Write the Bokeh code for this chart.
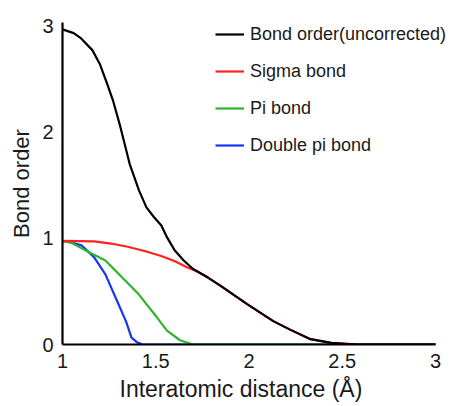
from bokeh.plotting import figure
from bokeh.models import Range1d, FixedTicker, Legend, LegendItem, Title
from bokeh.embed import file_html
from bokeh.resources import INLINE

# ---- data ----
black_x = [1.00, 1.06, 1.10, 1.16, 1.20, 1.24, 1.27, 1.31, 1.36, 1.41, 1.45, 1.49, 1.53, 1.56,
           1.60, 1.65, 1.70, 1.78, 1.85, 1.99, 2.13, 2.22, 2.33, 2.44, 2.58, 3.00]
black_y = [2.965, 2.93, 2.88, 2.77, 2.64, 2.45, 2.30, 2.05, 1.70, 1.45, 1.29, 1.20, 1.12, 1.01,
           0.89, 0.79, 0.71, 0.63, 0.55, 0.38, 0.22, 0.14, 0.05, 0.015, 0.0, 0.0]

red_x = [1.00, 1.17, 1.26, 1.35, 1.44, 1.525, 1.60, 1.67, 1.72, 1.78, 1.85, 1.99, 2.13,
         2.22, 2.33, 2.44, 2.58, 3.00]
red_y = [0.975, 0.97, 0.95, 0.92, 0.88, 0.835, 0.785, 0.725, 0.69, 0.63, 0.55, 0.38, 0.22,
         0.14, 0.05, 0.015, 0.0, 0.0]

green_x = [1.00, 1.05, 1.14, 1.23, 1.32, 1.41, 1.45, 1.50, 1.56, 1.63, 1.70, 3.00]
green_y = [0.975, 0.955, 0.87, 0.79, 0.63, 0.47, 0.38, 0.27, 0.13, 0.04, 0.0, 0.0]

blue_x = [1.00, 1.05, 1.105, 1.17, 1.23, 1.285, 1.34, 1.37, 1.40, 1.43, 1.50, 3.00]
blue_y = [0.975, 0.96, 0.93, 0.82, 0.66, 0.44, 0.22, 0.064, 0.02, 0.0, 0.0, 0.0]

series_names = ["Bond order(uncorrected)", "Sigma bond", "Pi bond", "Double pi bond"]

x_ticks = [1, 1.5, 2, 2.5, 3]
x_tick_labels = ["1", "1.5", "2", "2.5", "3"]
y_ticks = [0, 1, 2, 3]
y_tick_labels = ["0", "1", "2", "3"]

x_title = "Interatomic distance (Å)"
y_title = "Bond order"

FONT = "Liberation Sans"
TXT = "#1a1a1a"

W, H = 452, 406
LEFT, BOTTOM, TOP = 62, 62, 22
x_end = 1 + (W - LEFT) / 186.5   # frame runs to the right edge; axis line stops at 3

p = figure(width=W, height=H, output_backend="svg", toolbar_location=None,
           x_range=Range1d(1, x_end), y_range=Range1d(0, 3.03),
           min_border_left=LEFT, min_border_right=0, min_border_top=TOP, min_border_bottom=BOTTOM)
p.xgrid.visible = False
p.ygrid.visible = False
p.outline_line_color = None
p.background_fill_color = "white"
p.border_fill_color = "white"

colors = ["#000000", "#ff2020", "#2cb52c", "#1a35f0"]
data = [(black_x, black_y), (red_x, red_y), (green_x, green_y), (blue_x, blue_y)]
renderers = [None] * 4
for i in [3, 2, 1, 0]:
    xs, ys = data[i]
    renderers[i] = p.line(xs, ys, line_color=colors[i], line_width=2.2)

for ax in (p.xaxis[0], p.yaxis[0]):
    ax.axis_line_width = 2.2
    ax.axis_line_color = "#000000"
    ax.major_tick_out = 0
    ax.major_tick_in = 0
    ax.minor_tick_out = 0
    ax.minor_tick_in = 0
    ax.major_label_text_font = FONT
    ax.major_label_text_font_size = "20px"
    ax.major_label_text_color = TXT
    ax.axis_label_text_font = FONT
    ax.axis_label_text_font_style = "normal"
    ax.axis_label_text_color = TXT

p.xaxis.ticker = FixedTicker(ticks=x_ticks)
p.xaxis.major_label_overrides = dict(zip(x_ticks, x_tick_labels))
p.xaxis.bounds = (1, 3)
p.yaxis.ticker = FixedTicker(ticks=y_ticks)
p.yaxis.major_label_overrides = dict(zip(y_ticks, y_tick_labels))
p.yaxis.axis_label = y_title
p.yaxis.axis_label_text_font_size = "22px"
p.xaxis.major_label_standoff = 9
p.yaxis.major_label_standoff = 9
p.yaxis.axis_label_standoff = 5

# x-axis title placed under the 1..3 span of the axis
xt = Title(text=x_title, align="left", offset=57, standoff=6, vertical_align="bottom",
           text_font=FONT, text_font_size="23px", text_font_style="normal", text_color=TXT)
p.add_layout(xt, "below")

legend = Legend(items=[LegendItem(label=series_names[i], renderers=[renderers[i]]) for i in range(4)],
                location=(153, 188), padding=0, margin=0, spacing=15,
                glyph_width=29, glyph_height=22, label_height=22, label_standoff=6,
                border_line_color=None, background_fill_alpha=0,
                label_text_font=FONT, label_text_font_size="18px", label_text_color=TXT)
p.add_layout(legend, "center")

open("out.html", "w").write(file_html(p, INLINE))
